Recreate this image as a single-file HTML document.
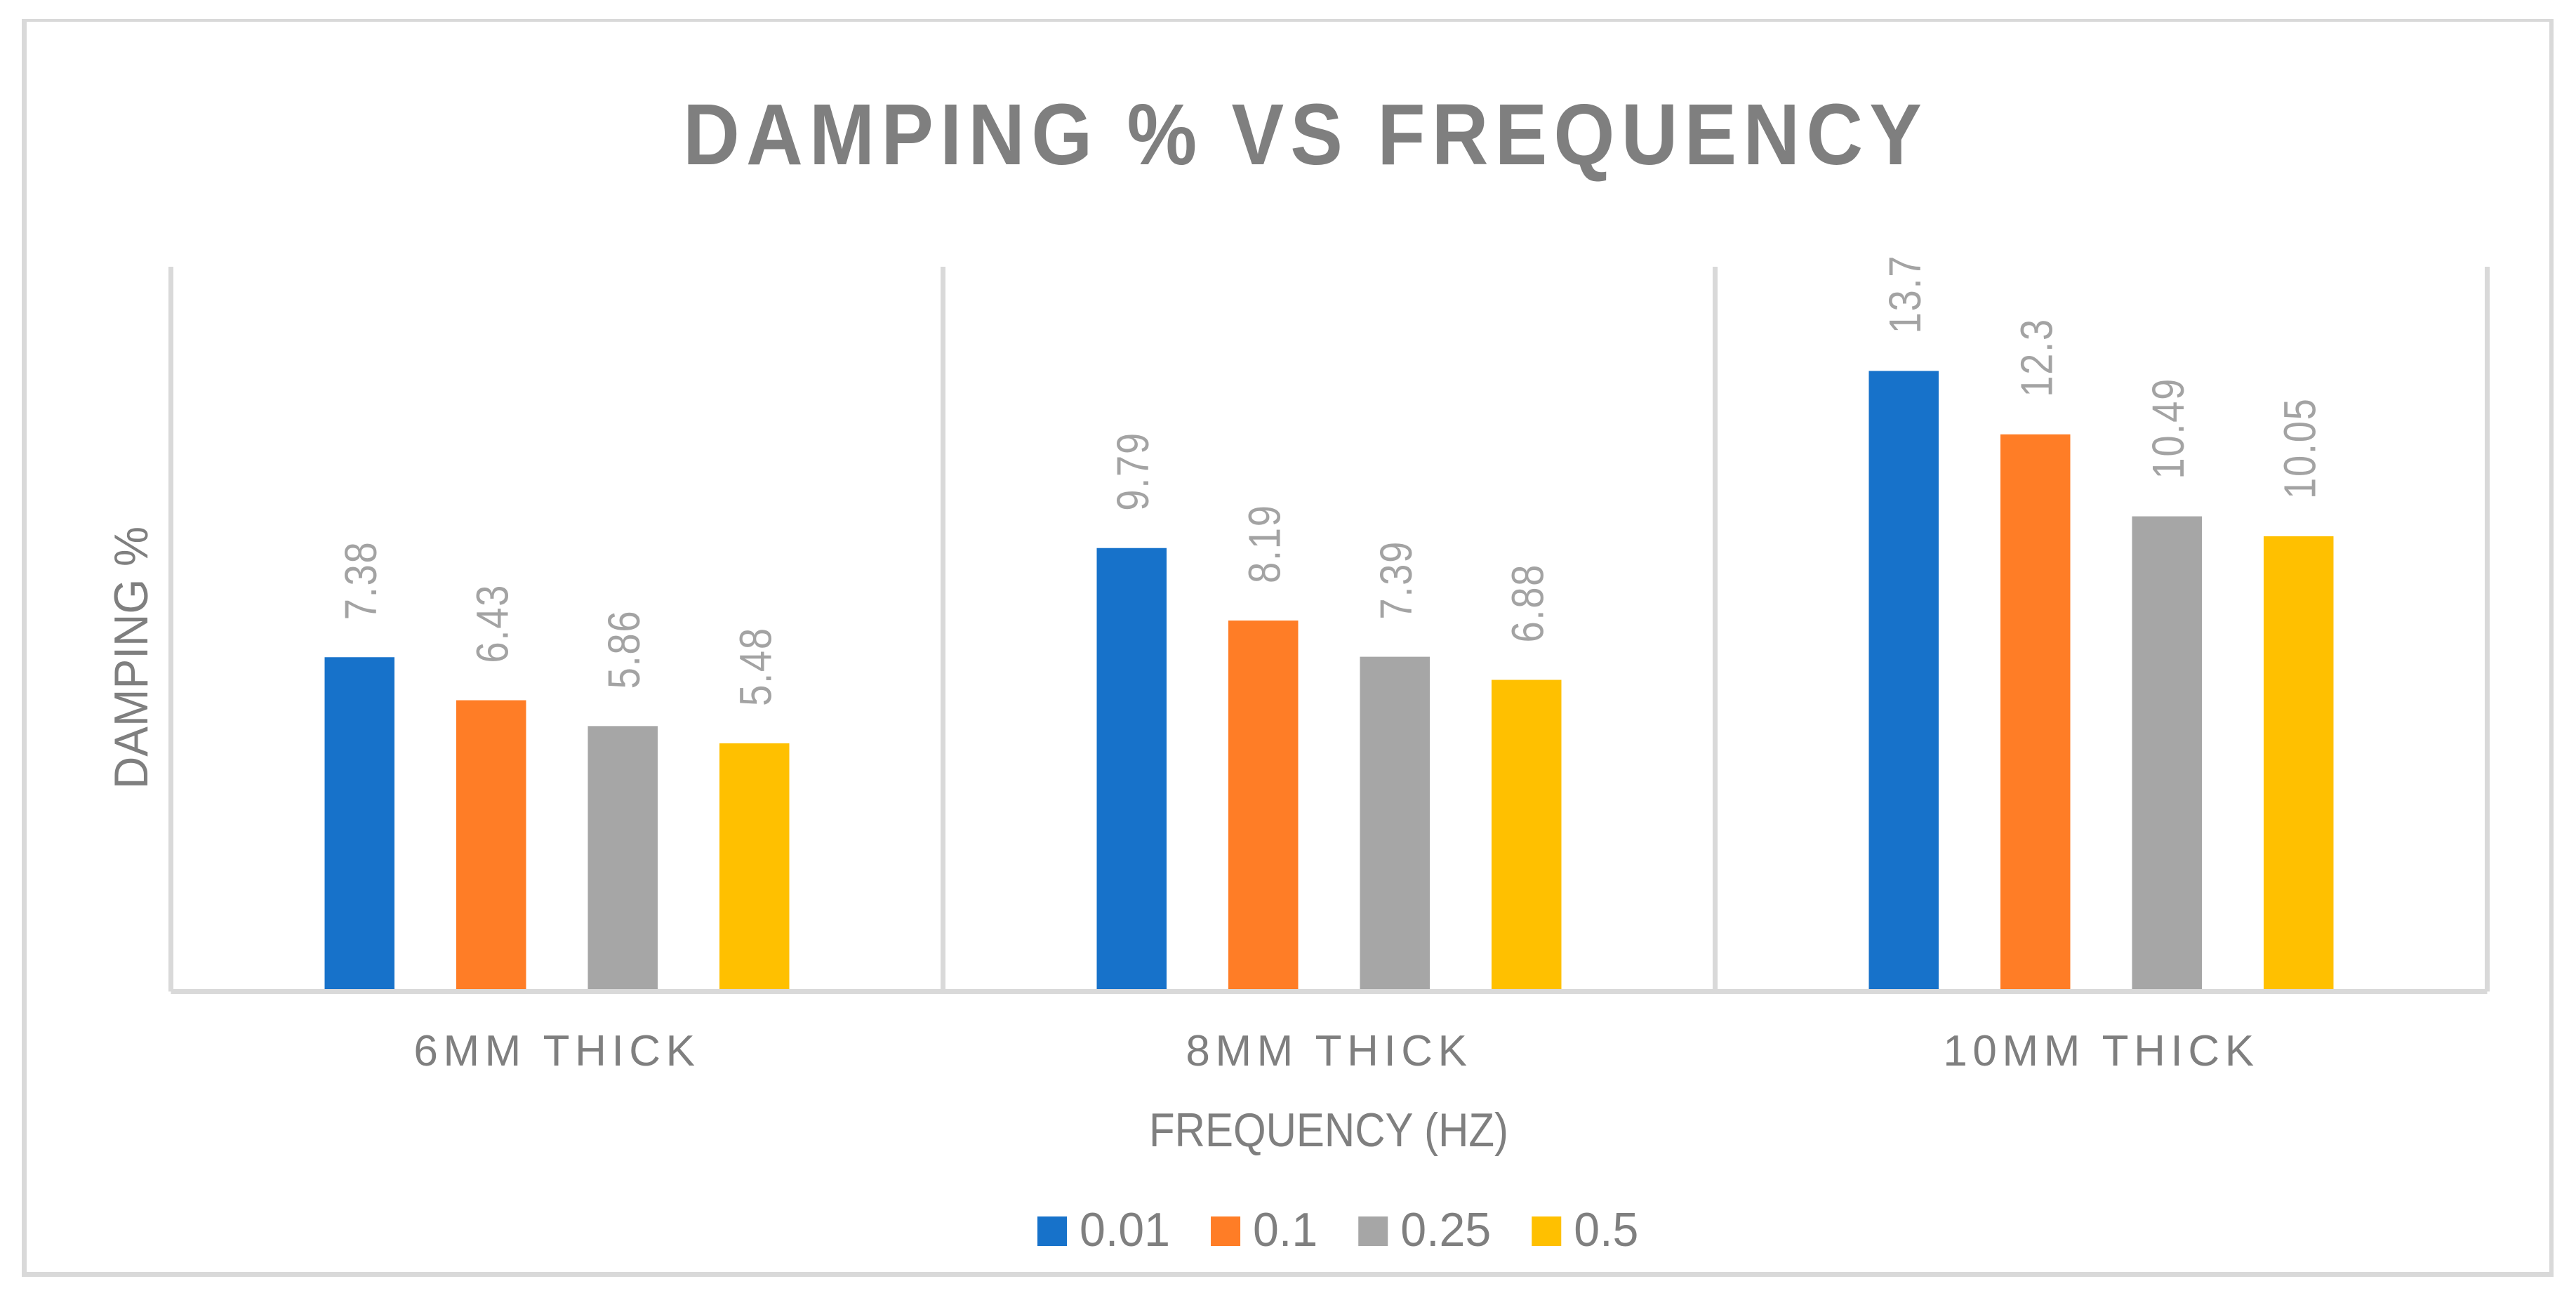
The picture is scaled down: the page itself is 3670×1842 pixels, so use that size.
<!DOCTYPE html>
<html lang="en">
<head>
<meta charset="utf-8">
<title>Damping % vs Frequency</title>
<style>
  html, body { margin: 0; padding: 0; background: #ffffff; }
  svg { display: block; }
  text { font-family: "Liberation Sans", sans-serif; }
</style>
</head>
<body>
<svg id="chart" xmlns="http://www.w3.org/2000/svg" width="3670" height="1842" viewBox="0 0 3670 1842">
  <rect x="0" y="0" width="3670" height="1842" fill="#ffffff"/>
  <g fill="#d9d9d9">
    <rect x="31" y="27" width="3607" height="4"/>
    <rect x="31" y="27" width="7" height="1792"/>
    <rect x="3632" y="27" width="6" height="1792"/>
    <rect x="31" y="1812" width="3607" height="7"/>
  </g>
  <text x="973" y="234" font-size="123" font-weight="700" fill="#7f7f7f" letter-spacing="10" textLength="1774" lengthAdjust="spacingAndGlyphs">DAMPING % VS FREQUENCY</text>
  <text transform="translate(210 1124) rotate(-90)" x="0" y="0" font-size="68" fill="#7f7f7f" textLength="374" lengthAdjust="spacingAndGlyphs">DAMPING %</text>
  <text x="1637" y="1633" font-size="68" fill="#7f7f7f" textLength="512" lengthAdjust="spacingAndGlyphs">FREQUENCY (HZ)</text>
  <g id="plot"></g>
  <g id="legend"></g>
</svg>
<script>
const categories = ["6MM THICK", "8MM THICK", "10MM THICK"];
const seriesNames = ["0.01", "0.1", "0.25", "0.5"];
const seriesColors = ["#1772CA", "#FF7D26", "#A6A6A6", "#FFC000"];
const values001 = [7.38, 9.79, 13.7];
const values01 = [6.43, 8.19, 12.3];
const values025 = [5.86, 7.39, 10.49];
const values05 = [5.48, 6.88, 10.05];
const valueLabels001 = ["7.38", "9.79", "13.7"];
const valueLabels01 = ["6.43", "8.19", "12.3"];
const valueLabels025 = ["5.86", "7.39", "10.49"];
const valueLabels05 = ["5.48", "6.88", "10.05"];
const yMax = 16;

const seriesValues = [values001, values01, values025, values05];
const seriesLabels = [valueLabels001, valueLabels01, valueLabels025, valueLabels05];

const NS = "http://www.w3.org/2000/svg";
const plotLeft = 243.5, plotRight = 3543.5, plotTop = 380, plotBottom = 1412.5;
const barWidth = 99.5, barStep = 187.5;

function xBand(i) {
  return plotLeft + i * (plotRight - plotLeft) / categories.length;
}
function xCenter(i) {
  return xBand(i) + (xBand(1) - xBand(0)) / 2;
}
function xBar(catIndex, seriesIndex) {
  const n = seriesNames.length;
  return xCenter(catIndex) + (seriesIndex - (n - 1) / 2) * barStep - barWidth / 2;
}
function yScale(v) {
  return plotBottom - (v / yMax) * (plotBottom - plotTop);
}
function make(tag, attrs, parent) {
  const el = document.createElementNS(NS, tag);
  for (const k in attrs) el.setAttribute(k, attrs[k]);
  parent.appendChild(el);
  return el;
}

const plot = document.getElementById("plot");

seriesValues.forEach(function (vals, s) {
  vals.forEach(function (v, c) {
    const bar = make("rect", {
      x: xBar(c, s), y: yScale(v), width: barWidth,
      height: plotBottom - yScale(v), fill: seriesColors[s]
    }, plot);
    
    

    const lx = xBar(c, s) + barWidth / 2 + 23.5;
    const ly = yScale(v) - 53;
    const lab = make("text", {
      transform: "translate(" + lx + " " + ly + ") rotate(-90) scale(0.85 1)",
      "font-size": 64, fill: "#a3a3a3", "letter-spacing": 2
    }, plot);
    lab.textContent = seriesLabels[s][c];
    
    
  });
});

for (let i = 0; i <= categories.length; i++) {
  const grid = make("rect", {
    x: xBand(i) - 3.5, y: plotTop, width: 7, height: plotBottom - plotTop, fill: "#d9d9d9"
  }, plot);
  
  
}

const baseline = make("rect", {
  x: plotLeft, y: plotBottom - 3.5, width: plotRight - plotLeft, height: 7, fill: "#d9d9d9"
}, plot);



categories.forEach(function (name, c) {
  const t = make("text", {
    x: xCenter(c), y: 1518, "font-size": 62, fill: "#7f7f7f",
    "text-anchor": "middle", "letter-spacing": 7.6
  }, plot);
  t.textContent = name;
  
  
});

const legend = document.getElementById("legend");
let cursor = 1478;
seriesNames.forEach(function (name, s) {
  const sw = make("rect", { x: cursor, y: 1733, width: 42, height: 42, fill: seriesColors[s] }, legend);
  
  
  const t = make("text", { x: cursor + 60, y: 1775, "font-size": 68, fill: "#7f7f7f" }, legend);
  t.textContent = name;
  
  
  const labelWidth = t.getComputedTextLength() * 0.975;
  t.setAttribute("textLength", labelWidth);
  t.setAttribute("lengthAdjust", "spacingAndGlyphs");
  cursor += 60 + labelWidth + 58;
});
</script>
</body>
</html>
